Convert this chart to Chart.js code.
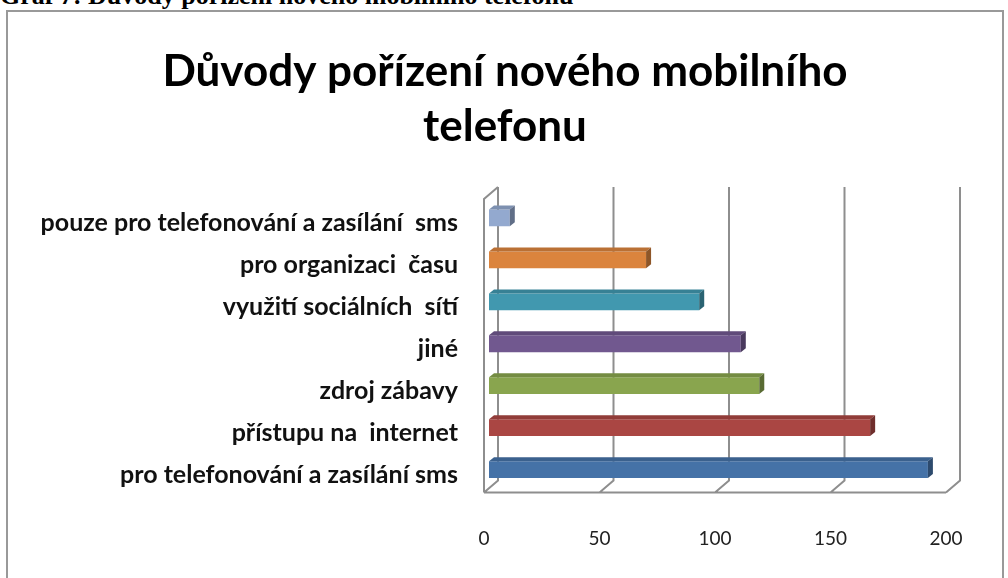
<!DOCTYPE html>
<html>
<head>
<meta charset="utf-8">
<script src="https://cdn.jsdelivr.net/npm/chart.js@4"></script>
<style>
  html, body { margin:0; padding:0; background:#fff; }
  body { width:1008px; height:578px; overflow:hidden; position:relative; }
  #heading { position:absolute; left:0; top:-17px; font:bold 26px "Liberation Serif", serif; line-height:26px; color:#000; white-space:nowrap; }
  #box { position:absolute; left:6px; top:10px; width:998px; height:620px; border:2px solid #999; box-sizing:border-box; }
  #c { position:absolute; left:0; top:0; }
</style>
</head>
<body>
<div id="heading">Graf 7: Důvody pořízení nového mobilního telefonu</div>
<div id="box"></div>
<canvas id="c" width="1008" height="578"></canvas>
<script>
const titleLines = ["Důvody pořízení nového mobilního", "telefonu"];
const categories = [
  "pouze pro telefonování a zasílání  sms",
  "pro organizaci  času",
  "využití sociálních  sítí",
  "jiné",
  "zdroj zábavy",
  "přístupu na  internet",
  "pro telefonování a zasílání sms"
];
const values = [9, 68, 91, 109, 117, 165, 190];
const barColors = ["#93A9CF", "#DB843D", "#4198AF", "#71588F", "#89A54E", "#AA4643", "#4572A7"];
const tickValues = [0, 50, 100, 150, 200];

function shade(hex, f) {
  const n = parseInt(hex.slice(1), 16);
  const r = Math.round(((n >> 16) & 255) * f), g = Math.round(((n >> 8) & 255) * f), b = Math.round((n & 255) * f);
  return `rgb(${r},${g},${b})`;
}

const DX = 5, DY = 4;            // bar depth
const FRONT = { dx: -5, dy: 2 };  // front plane offset from bar plane
const BACK = { dx: 9, dy: -10 };  // back wall offset from bar plane

const wallPlugin = {
  id: 'walls',
  afterLayout(chart) {
    // let long category labels extend into the left padding without being clipped
    chart.scales.y.left = 0;
  },
  beforeDatasetsDraw(chart) {
    const { ctx, chartArea: a, scales: { x } } = chart;
    ctx.save();
    ctx.strokeStyle = '#8e8e8e';
    ctx.lineWidth = 2;
    ctx.beginPath();
    tickValues.forEach(v => {
      const px = x.getPixelForValue(v);
      ctx.moveTo(px + BACK.dx, a.top + BACK.dy);
      ctx.lineTo(px + BACK.dx, a.bottom + BACK.dy);
      ctx.lineTo(px + FRONT.dx, a.bottom + FRONT.dy);
    });
    const p0 = x.getPixelForValue(0), pN = x.getPixelForValue(200);
    ctx.moveTo(p0 + FRONT.dx, a.bottom + FRONT.dy);
    ctx.lineTo(pN + FRONT.dx, a.bottom + FRONT.dy);
    ctx.moveTo(p0 + FRONT.dx, a.bottom + FRONT.dy);
    ctx.lineTo(p0 + FRONT.dx, a.top + FRONT.dy);
    ctx.lineTo(p0 + BACK.dx, a.top + BACK.dy);
    ctx.stroke();
    ctx.restore();
  },
  afterDatasetsDraw(chart) {
    const { ctx } = chart;
    const meta = chart.getDatasetMeta(0);
    ctx.save();
    meta.data.forEach((bar, i) => {
      const p = bar.getProps(['x', 'y', 'base', 'height'], true);
      const x0 = p.base, x1 = p.x, top = p.y - p.height / 2, bot = p.y + p.height / 2;
      const col = barColors[i];
      ctx.fillStyle = shade(col, 0.85);
      ctx.beginPath();
      ctx.moveTo(x0, top); ctx.lineTo(x0 + DX, top - DY); ctx.lineTo(x1 + DX, top - DY); ctx.lineTo(x1, top); ctx.closePath();
      ctx.fill();
      ctx.fillStyle = shade(col, 0.65);
      ctx.beginPath();
      ctx.moveTo(x1, top); ctx.lineTo(x1 + DX, top - DY); ctx.lineTo(x1 + DX, bot - DY); ctx.lineTo(x1, bot); ctx.closePath();
      ctx.fill();
    });
    ctx.restore();
  }
};

new Chart(document.getElementById('c'), {
  type: 'bar',
  data: {
    labels: categories,
    datasets: [{
      data: values,
      backgroundColor: barColors,
      borderWidth: 0,
      barPercentage: 0.4,
      categoryPercentage: 1
    }]
  },
  options: {
    indexAxis: 'y',
    responsive: false,
    animation: false,
    devicePixelRatio: 1,
    layout: { padding: { left: 59, right: 57, top: 0, bottom: 0 } },
    plugins: {
      legend: { display: false },
      tooltip: { enabled: false },
      title: {
        display: true,
        text: titleLines,
        color: '#000',
        font: { family: 'Lato', size: 44, weight: 'bold', lineHeight: 1.25 },
        padding: { top: 44.5, bottom: 42.5 }
      }
    },
    scales: {
      x: {
        min: 0, max: 200,
        afterBuildTicks: s => { s.ticks = tickValues.map(v => ({ value: v })); },
        ticks: { color: '#222', font: { family: 'Lato', size: 19 }, padding: 37, labelOffset: -5, maxRotation: 0 },
        grid: { display: false, drawTicks: false },
        border: { display: false },
        afterFit: s => { s.height = 87.5; }
      },
      y: {
        ticks: { color: '#111', font: { family: 'Lato', size: 25, weight: 'bold' }, padding: 31, labelOffset: 5 },
        grid: { display: false, drawTicks: false },
        border: { display: false },
        afterFit: s => { s.width = 430; }
      }
    }
  },
  plugins: [wallPlugin]
});
</script>
</body>
</html>
